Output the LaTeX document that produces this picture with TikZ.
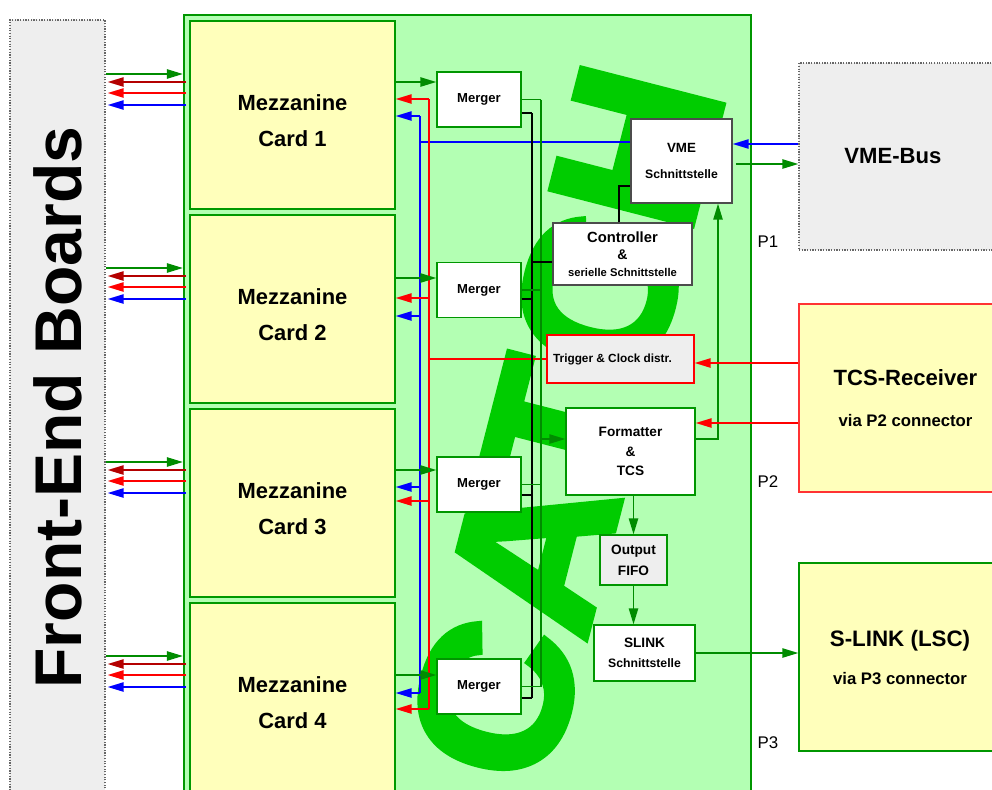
\documentclass[tikz,border=0pt]{standalone}
\usepackage{fontspec}
\setmainfont{Liberation Sans}
\newfontfamily\logofont[FakeBold=3]{Liberation Sans Bold}
\usetikzlibrary{arrows.meta,positioning,calc}
\definecolor{boardgreen}{RGB}{179,255,179}
\definecolor{boardline}{RGB}{0,150,0}
\definecolor{logogreen}{RGB}{0,204,0}
\definecolor{cardyellow}{RGB}{255,255,187}
\definecolor{wiregreen}{RGB}{0,140,0}
\definecolor{darkred}{RGB}{180,0,0}
\definecolor{boxgray}{RGB}{238,238,238}
\tikzset{
  wh/.style 2 args={minimum width=#1*0.025cm, minimum height=#2*0.025cm},
  blk/.style={draw, inner sep=0pt, align=center},
  card/.style={blk, fill=cardyellow, draw=green!60!black, line width=0.9pt, wh={205}{188}},
  cardtxt/.style={align=center, yshift=-0.15cm, font=\bfseries\fontsize{15.6}{25.6}\selectfont},
  mrg/.style={blk, fill=white, draw=boardline, line width=0.9pt, wh={84}{55}, font=\bfseries\fontsize{9.3}{11}\selectfont},
  ibox/.style={blk, fill=white, draw=black!70, line width=0.9pt},
  gbox/.style={blk, fill=white, draw=boardline, line width=0.9pt},
  extbox/.style={blk, line width=0.9pt},
  wire/.style={line width=1.3pt},
  thinwire/.style={line width=0.8pt},
  plbl/.style={inner sep=0pt, font=\fontsize{12}{14}\selectfont}
}
\begin{document}
\begin{tikzpicture}[x=0.025cm, y=-0.025cm, >={Triangle[length=0.4cm,width=0.23cm]}]
\useasboundingbox (0,0) rectangle (992,789);
\node[extbox, fill=boxgray, draw=black!60, densely dotted, wh={95}{775}, label={[rotate=90, font=\bfseries\fontsize{47}{50}\selectfont]center:Front-End Boards}] (fe) at (57.5,407.5) {};
\node[blk, fill=boardgreen, draw=boardline, line width=1.5pt, wh={567}{785}] (board) at (467.5,407.5) {};
\node[text=logogreen, inner sep=0pt, rotate=75.6, font=\logofont\fontsize{150}{150}\selectfont] (logo) at (566,423) {CATCH};
\foreach \i in {1,...,4} \node[card, label={[cardtxt]center:Mezzanine\\Card \i}] (mez\i) at (292.5,{115+194*(\i-1)}) {};
\foreach \i/\y in {1/99.5,2/290,3/484.5,4/686.5} \node[mrg] (mrg\i) at (479,\y) {Merger};
\node[ibox, wh={101}{84}, font=\bfseries\fontsize{8.7}{18.5}\selectfont] (vme) at (681.5,161) {{\fontsize{9.5}{18.5}\selectfont VME}\\Schnittstelle};
\node[ibox, wh={139}{62}, font=\bfseries\fontsize{8}{12}\selectfont] (ctrl) at (622.5,254) {{\fontsize{10.5}{12}\selectfont Controller}\\{\fontsize{10}{12}\selectfont\&}\\serielle Schnittstelle};
\node[blk, fill=boxgray, draw=red, line width=0.9pt, wh={147}{48}, label={[xshift=-0.2cm, font=\bfseries\fontsize{8.4}{10}\selectfont]center:Trigger \& Clock distr.}] (trig) at (620.5,359) {};
\node[gbox, wh={129}{87}, font=\bfseries\fontsize{9.7}{13.9}\selectfont] (fmt) at (630.5,451.5) {Formatter\\\&\\TCS};
\node[gbox, fill=boxgray, wh={67}{50}, font=\bfseries\fontsize{9.7}{15}\selectfont] (fifo) at (633.5,560) {Output\\FIFO};
\node[gbox, wh={101}{56}, font=\bfseries\fontsize{8.7}{14}\selectfont] (slink) at (644.5,653) {{\fontsize{9.7}{14}\selectfont SLINK}\\Schnittstelle};
\node[extbox, fill=boxgray, draw=black!60, densely dotted, wh={211}{187}, label={[xshift=-0.29cm, font=\bfseries\fontsize{15.7}{18}\selectfont]center:VME-Bus}] (vmebus) at (904.5,156.5) {};
\node[extbox, fill=cardyellow, draw=red!80, wh={213}{188}, font=\bfseries\fontsize{11.9}{29}\selectfont] (tcsrx) at (905.5,398) {{\fontsize{15.7}{29}\selectfont TCS-Receiver}\\via P2 connector};
\node[extbox, fill=cardyellow, draw=boardline, wh={202}{188}, font=\bfseries\fontsize{11.9}{27}\selectfont] (slsc) at (900,657) {{\fontsize{15.9}{27}\selectfont S-LINK (LSC)}\\via P3 connector};
\node[plbl] (p1) at (768,242) {P1};
\node[plbl] (p2) at (768,482) {P2};
\node[plbl] (p3) at (768,743) {P3};
\coordinate (bbus) at (420,0);
\coordinate (rbus) at (429,0);
\coordinate (kbus) at (532,0);
\coordinate (gbus) at (541,0);
\foreach \i in {1,...,4} {
  \pgfmathsetmacro\y{74+194*(\i-1)}
  \draw[wire, wiregreen, ->] (fe.east |- 0,\y) -- (board.west |- 0,\y);
  \draw[wire, darkred, ->] ([xshift=-0.08cm]mez\i.west |- 0,\y+8) -- ([xshift=0.05cm]fe.east |- 0,\y+8);
  \draw[wire, red, ->] ([xshift=-0.08cm]mez\i.west |- 0,\y+19) -- ([xshift=0.05cm]fe.east |- 0,\y+19);
  \draw[wire, blue, ->] ([xshift=-0.08cm]mez\i.west |- 0,\y+31) -- ([xshift=0.05cm]fe.east |- 0,\y+31);
}
\draw[wire, blue] (vme.west |- 0,142) -- (bbus |- 0,142);
\draw[wire, blue] (bbus |- 0,116) -- (bbus |- 0,693);
\draw[wire, red] (trig.west) -- (rbus |- trig.west);
\draw[wire, red] (rbus |- 0,99) -- (rbus |- 0,709);
\draw[wire, wiregreen] (gbus |- mrg1.east) -- (gbus |- mrg4.east);
\draw[thinwire] (kbus |- 0,113) -- (kbus |- 0,698);
\foreach \i/\yin/\yr/\yb/\yk in {1/82/99/116/113,2/278/298/316/299,3/470/501/487/495,4/675/709/693/698} {
  \draw[wire, wiregreen, ->] (mez\i.east |- 0,\yin) -- (mrg\i.west |- 0,\yin);
  \draw[wire, red, ->] (rbus |- 0,\yr) -- (mez\i.east |- 0,\yr);
  \draw[wire, blue, ->] (bbus |- 0,\yb) -- (mez\i.east |- 0,\yb);
  \draw[wire, wiregreen] (mrg\i.east) -- (gbus |- mrg\i.east);
  \draw[thinwire] (mrg\i.east |- 0,\yk) -- (kbus |- 0,\yk);
}
\draw[thinwire] (kbus |- 0,262) -- (ctrl.west |- 0,262);
\draw[thinwire] (ctrl.north -| 619,0) |- (vme.west |- 0,186);
\draw[wire, wiregreen, ->] (gbus |- 0,439) -- (fmt.west |- 0,439);
\draw[wire, wiregreen, ->] (fmt.east |- 0,439) -| (vme.south -| 718,0);
\draw[wire, red, ->] (tcsrx.west |- 0,363) -- (trig.east |- 0,363);
\draw[wire, red, ->] (tcsrx.west |- 0,423) -- (fmt.east |- 0,423);
\draw[wire, blue, ->] (vmebus.west |- 0,144) -- (vme.east |- 0,144);
\draw[wire, wiregreen, ->] ([xshift=0.08cm]vme.east |- 0,164) -- (vmebus.west |- 0,164);
\draw[wire, wiregreen, ->] (fmt.south -| fifo.north) -- (fifo.north);
\draw[wire, wiregreen, ->] (fifo.south) -- (slink.north -| fifo.south);
\draw[wire, wiregreen, ->] (slink.east) -- (slsc.west |- slink.east);
\end{tikzpicture}
\end{document}
